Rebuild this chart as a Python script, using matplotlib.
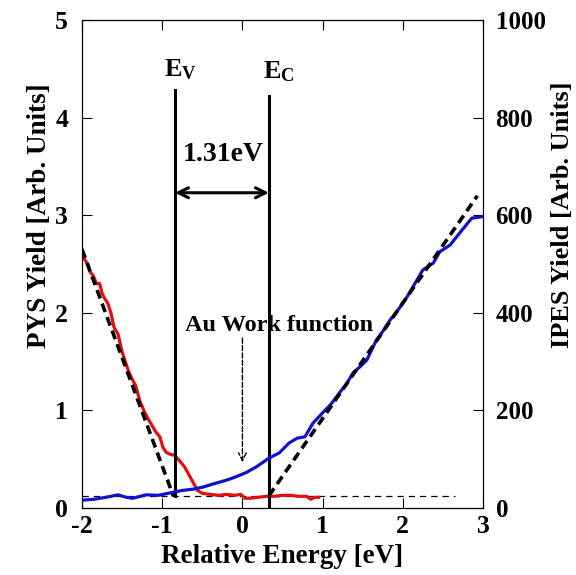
import matplotlib
matplotlib.use("Agg")
import matplotlib.pyplot as plt

plt.rcParams['font.family'] = ['Liberation Serif', 'DejaVu Serif']
plt.rcParams['font.weight'] = 'bold'
plt.rcParams['axes.unicode_minus'] = False
plt.rcParams['mathtext.fontset'] = 'custom'
plt.rcParams['mathtext.rm'] = 'Liberation Serif:bold'
plt.rcParams['mathtext.bf'] = 'Liberation Serif:bold'
plt.rcParams['mathtext.it'] = 'Liberation Serif:bold'

# PYS (left axis)
pys_x = [-2.0, -1.97, -1.93, -1.9, -1.86, -1.82, -1.78, -1.75, -1.72, -1.68, -1.64, -1.6,
         -1.55, -1.5, -1.46, -1.42, -1.38, -1.33, -1.28, -1.23, -1.18, -1.13, -1.08, -1.03,
         -0.99, -0.95, -0.9, -0.85, -0.8, -0.76, -0.72, -0.68, -0.64, -0.6, -0.56, -0.5,
         -0.4, -0.3, -0.2, -0.1, -0.02, 0.03, 0.1, 0.2, 0.3, 0.4, 0.5, 0.6, 0.7, 0.8,
         0.85, 0.9, 0.95]
pys_y = [2.65, 2.55, 2.5, 2.42, 2.38, 2.3, 2.3, 2.2, 2.15, 2.1, 2.0, 1.85,
         1.78, 1.6, 1.5, 1.4, 1.33, 1.25, 1.1, 1.0, 0.92, 0.85, 0.78, 0.73,
         0.62, 0.57, 0.55, 0.54, 0.5, 0.46, 0.42, 0.36, 0.3, 0.24, 0.18, 0.15,
         0.14, 0.13, 0.14, 0.13, 0.14, 0.1, 0.1, 0.11, 0.12, 0.12, 0.13, 0.13, 0.12, 0.12,
         0.09, 0.11, 0.11]

# IPES (right axis)
ipes_x = [-2.0, -1.85, -1.7, -1.55, -1.45, -1.37, -1.2, -1.05, -0.9, -0.75, -0.6, -0.49,
          -0.35, -0.2, -0.08, 0.05, 0.17, 0.33, 0.46, 0.58, 0.68, 0.78, 0.88, 1.0, 1.1,
          1.21, 1.3, 1.38, 1.47, 1.55, 1.67, 1.75, 1.84, 1.95, 2.05, 2.15, 2.25, 2.38,
          2.46, 2.59, 2.74, 2.86, 2.99]
ipes_y = [16, 18, 22, 27, 22, 20, 27, 26, 31, 36, 39, 43,
          50, 57, 64, 73, 84, 102, 113, 133, 143, 146, 174, 195, 212,
          236, 255, 277, 290, 303, 344, 362, 385, 408, 432, 460, 488, 502,
          525, 539, 570, 594, 597]

# fits and markers
pys_fit_x = [-2.0, -0.86]
pys_fit_y = [2.65, 0.12]
ipes_fit_x = [0.33, 2.93]
ipes_fit_y = [25, 640]
base_x = [-2.0, 2.65]
base_y = [0.12, 0.12]
ev_x = -0.84
ec_x = 0.33

fig = plt.figure(figsize=(5.76, 5.75), dpi=100)
ax = fig.add_axes([0.1424, 0.1165, 0.6962, 0.8487])
ax2 = ax.twinx()

ax.plot(pys_x, pys_y, color='#e01010', lw=2.3, zorder=3)
ax.plot(pys_fit_x, pys_fit_y, color='black', lw=2.6, ls=(0, (2.5, 1.5)), zorder=4)
ax.plot(base_x, base_y, color='black', lw=0.9, ls=(0, (5, 4)), zorder=2)
ax.plot([ev_x, ev_x], [0.12, 4.28], color='black', lw=2.2, zorder=4)
ax.plot([ec_x, ec_x], [0.0, 4.22], color='black', lw=2.2, zorder=4)

ax2.plot(ipes_x, ipes_y, color='#1010d0', lw=2.3, zorder=3)
ax2.plot(ipes_fit_x, ipes_fit_y, color='black', lw=2.6, ls=(0, (2.5, 1.5)), zorder=4)

ax.text(-0.77, 4.49, r'$\mathbf{E}_\mathbf{V}$', fontsize=19, ha='center', va='center')
ax.text(0.45, 4.47, r'$\mathbf{E}_\mathbf{C}$', fontsize=19, ha='center', va='center')
ax.annotate('', xy=(ev_x, 3.23), xytext=(ec_x, 3.23),
            arrowprops=dict(arrowstyle='<->', lw=2.2, color='black',
                            shrinkA=0, shrinkB=0, mutation_scale=18))
ax.text((ev_x + ec_x) / 2 + 0.02, 3.62, '1.31eV', fontsize=20, fontweight='bold',
        ha='center', va='center')
ax.text(0.46, 1.87, 'Au Work function', fontsize=17.5, fontweight='bold',
        ha='center', va='center')
ax.annotate('', xy=(0.0, 0.47), xytext=(0.0, 1.74),
            arrowprops=dict(arrowstyle='->', lw=1.0, ls='--', color='black',
                            shrinkA=0, shrinkB=0, mutation_scale=14))

ax.set_xlim(-2, 3)
ax.set_ylim(0, 5)
ax2.set_ylim(0, 1000)
ax.set_xticks([-2, -1, 0, 1, 2, 3])
ax.set_yticks([0, 1, 2, 3, 4, 5])
ax2.set_yticks([0, 200, 400, 600, 800, 1000])

ax.tick_params(axis='x', direction='in', top=True, length=7, width=0.8,
               labelsize=18.5, pad=5)
ax.tick_params(axis='y', direction='in', length=7, width=0.8, labelsize=18.5, pad=10)
ax2.tick_params(axis='y', direction='in', length=7, width=0.8, labelsize=18, pad=9)
for lab in ax.get_xticklabels() + ax.get_yticklabels() + ax2.get_yticklabels():
    lab.set_fontweight('bold')

ax.set_xlabel('Relative Energy [eV]', fontsize=19.5, fontweight='bold', labelpad=4)
ax.set_ylabel('PYS Yield [Arb. Units]', fontsize=19.5, fontweight='bold', labelpad=2)
ax2.set_ylabel('IPES Yield [Arb. Units]', fontsize=19, fontweight='bold', labelpad=4)
ax.yaxis.label.set_y(0.60)
ax2.yaxis.label.set_y(0.60)

for a in (ax, ax2):
    for s in a.spines.values():
        s.set_linewidth(0.8)

fig.savefig('out.png', dpi=100)
